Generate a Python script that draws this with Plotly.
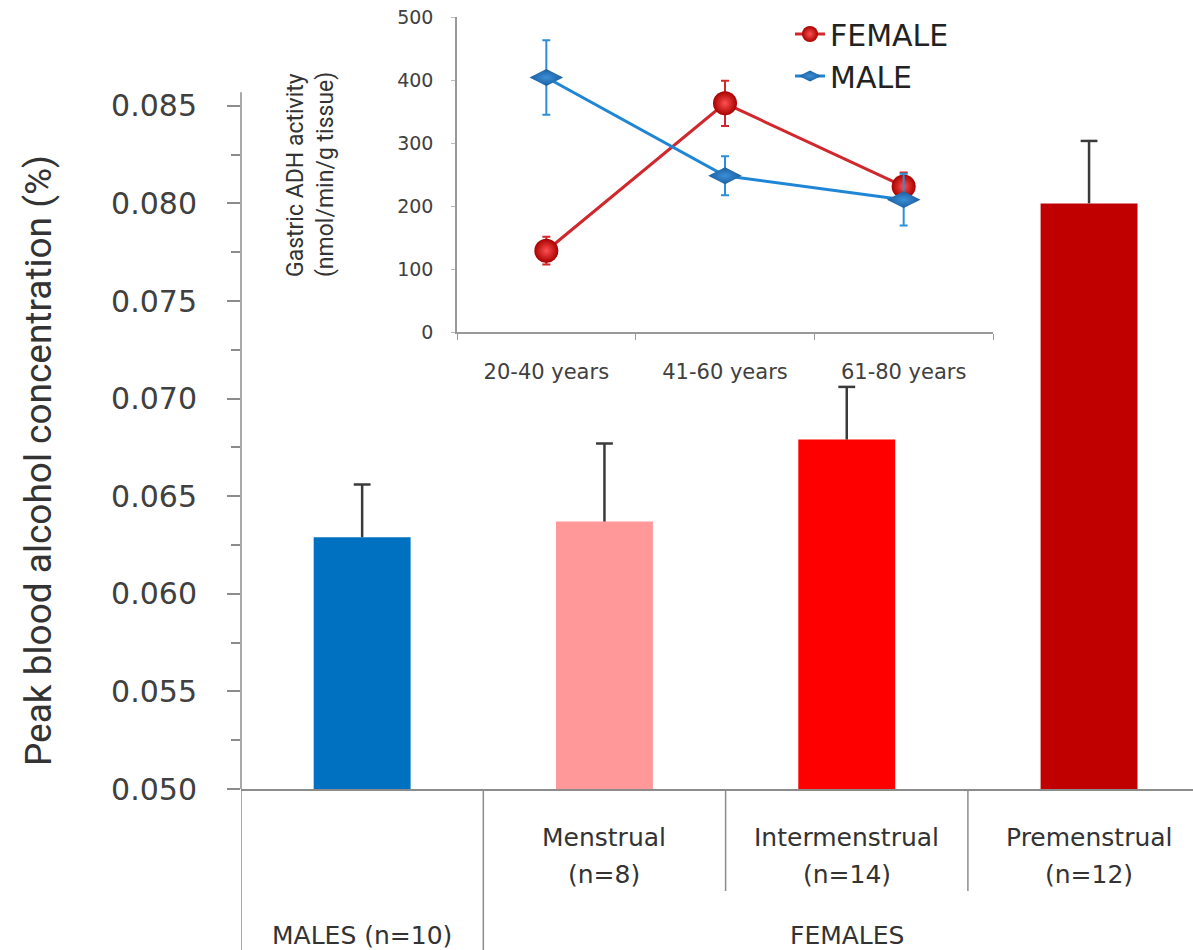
import plotly.graph_objects as go

# ---- main bar chart data ----
groups = ["MALES (n=10)", "Menstrual (n=8)", "Intermenstrual (n=14)", "Premenstrual (n=12)"]
phase_line1 = ["", "Menstrual", "Intermenstrual", "Premenstrual"]
phase_line2 = ["", "(n=8)", "(n=14)", "(n=12)"]
peak_bac = [0.0629, 0.0637, 0.0679, 0.0800]
peak_bac_err = [0.0027, 0.0040, 0.0027, 0.0032]
bar_colors = ["#0070C0", "#FF9999", "#FF0000", "#C00000"]
y_ticks = [0.050, 0.055, 0.060, 0.065, 0.070, 0.075, 0.080, 0.085]
y_minor = [0.0525, 0.0575, 0.0625, 0.0675, 0.0725, 0.0775, 0.0825]

# ---- inset data ----
age_groups = ["20-40 years", "41-60 years", "61-80 years"]
female_adh = [129, 363, 231]
female_adh_err = [22, 36, 22]
male_adh = [404, 248, 210]
male_adh_err = [59, 31, 41]

W, H = 1193, 950
ML, MR, MT = 241, 0, 17
MB = H - 789
PW = W - ML - MR
PH = H - MT - MB
CAT_PX = 242.3


def px(xp):
    return (xp - ML) / PW


def py(yp):
    return (H - MB - yp) / PH


fig = go.Figure()

xs = list(range(len(groups)))
fig.add_trace(go.Bar(
    x=xs, y=peak_bac, width=0.4,
    marker=dict(color=bar_colors, line=dict(width=0)),
    showlegend=False, xaxis="x", yaxis="y",
))

# one-sided error bars (stem + cap) built from the data
err_x, err_y = [], []
for i, (v, e) in enumerate(zip(peak_bac, peak_bac_err)):
    err_x += [i, i, None]
    err_y += [v, v + e, None]
fig.add_trace(go.Scatter(
    x=err_x, y=err_y, mode="lines", line=dict(color="#3a3a3a", width=2.5),
    showlegend=False, hoverinfo="skip", xaxis="x", yaxis="y",
))
fig.add_trace(go.Scatter(
    x=xs, y=[v + e for v, e in zip(peak_bac, peak_bac_err)], mode="markers",
    marker=dict(symbol="line-ew", size=12, line=dict(color="#3a3a3a", width=2.5)),
    showlegend=False, hoverinfo="skip", xaxis="x", yaxis="y",
))

fig.add_trace(go.Scatter(
    x=age_groups, y=female_adh, name="FEMALE", mode="lines+markers",
    line=dict(color="#D0282C", width=3),
    marker=dict(symbol="circle", size=24, color="#A80000",
                gradient=dict(type="radial", color="#FF5050"),
                line=dict(width=0)),
    error_y=dict(type="data", array=female_adh_err, color="#D0282C", thickness=2, width=4),
    xaxis="x2", yaxis="y2",
))
fig.add_trace(go.Scatter(
    x=age_groups, y=male_adh, name="MALE", mode="lines+markers",
    line=dict(color="#1F86D6", width=3),
    marker=dict(symbol="diamond-wide", size=24, color="#1A5E9E",
                gradient=dict(type="radial", color="#3C8FD8"),
                line=dict(width=0)),
    error_y=dict(type="data", array=male_adh_err, color="#2E8FD8", thickness=2, width=4),
    xaxis="x2", yaxis="y2",
))

ytop = 0.050 + PH / 19520.0
axis_top = 0.0857
xmax = -0.5 + PW / CAT_PX

shapes = [
    dict(type="line", xref="paper", yref="y", x0=0, x1=0, y0=0.050, y1=axis_top,
         line=dict(color="#8c8c8c", width=1.5)),
]
for xv, ybot in [(-0.5, 960), (0.5, 960), (1.5, 891), (2.5, 891)]:
    shapes.append(dict(type="line", xref="x", yref="paper", x0=xv, x1=xv,
                       y0=0, y1=py(ybot), line=dict(color="#8c8c8c", width=1.5)))

annotations = []
cat_font = dict(family="DejaVu Sans", size=25, color="#333333")
for i in xs:
    if phase_line1[i]:
        annotations.append(dict(x=i, xref="x", y=py(837), yref="paper", text=phase_line1[i],
                                showarrow=False, font=cat_font, xanchor="center", yanchor="middle"))
        annotations.append(dict(x=i, xref="x", y=py(874), yref="paper", text=phase_line2[i],
                                showarrow=False, font=cat_font, xanchor="center", yanchor="middle"))
annotations.append(dict(x=0, xref="x", y=py(935), yref="paper", text="MALES (n=10)",
                        showarrow=False, font=cat_font, xanchor="center", yanchor="middle"))
annotations.append(dict(x=2, xref="x", y=py(935), yref="paper", text="FEMALES",
                        showarrow=False, font=cat_font, xanchor="center", yanchor="middle"))
annotations.append(dict(x=px(38), xref="paper", y=py(461), yref="paper",
                        text="Peak blood alcohol concentration (%)", textangle=-90,
                        showarrow=False, xanchor="center", yanchor="middle",
                        font=dict(family="Roboto", size=37, color="#333333")))
annotations.append(dict(x=px(296), xref="paper", y=py(175), yref="paper",
                        text="Gastric ADH activity", textangle=-90, showarrow=False,
                        xanchor="center", yanchor="middle",
                        font=dict(family="Roboto", size=23, color="#333333")))
annotations.append(dict(x=px(326), xref="paper", y=py(175), yref="paper",
                        text="(nmol/min/g tissue)", textangle=-90, showarrow=False,
                        xanchor="center", yanchor="middle",
                        font=dict(family="Roboto", size=23, color="#333333")))

fig.update_layout(
    width=W, height=H, autosize=False,
    margin=dict(l=ML, r=MR, t=MT, b=MB, pad=0, autoexpand=False),
    paper_bgcolor="white", plot_bgcolor="rgba(0,0,0,0)",
    xaxis=dict(range=[-0.5, xmax], showline=True, linecolor="#8c8c8c", linewidth=1.5,
               showticklabels=False, ticks="", showgrid=False, zeroline=False,
               fixedrange=True, automargin=False),
    yaxis=dict(range=[0.050, ytop], tickvals=y_ticks,
               ticktext=["%.3f" % v for v in y_ticks],
               ticks="outside", ticklen=13, tickwidth=1.5, tickcolor="#8c8c8c",
               minor=dict(tickvals=y_minor, ticks="outside", ticklen=9, tickwidth=1.5,
                          tickcolor="#8c8c8c"),
               showline=False, showgrid=False, zeroline=False, ticklabelstandoff=24,
               automargin=False,
               tickfont=dict(family="DejaVu Sans", size=30, color="#404040")),
    xaxis2=dict(domain=[px(457), px(993)], anchor="y2", type="category",
                range=[-0.5, len(age_groups) - 0.5],
                showline=True, linecolor="#999999", linewidth=1.5,
                ticks="outside", tickson="boundaries", ticklen=6, tickcolor="#999999",
                showgrid=False, zeroline=False, ticklabelstandoff=20, automargin=False,
                tickfont=dict(family="DejaVu Sans", size=21, color="#404040")),
    yaxis2=dict(domain=[py(332), 1.0], anchor="x2", range=[0, 500], dtick=100,
                showline=True, linecolor="#999999", linewidth=1.5,
                ticks="outside", ticklen=4, tickcolor="#bbbbbb",
                showgrid=False, zeroline=False, ticklabelstandoff=14, automargin=False,
                ticklabeloverflow="allow",
                tickfont=dict(family="DejaVu Sans", size=19, color="#404040")),
    legend=dict(x=px(790), y=py(8), xanchor="left", yanchor="top",
                bgcolor="rgba(0,0,0,0)", borderwidth=0, itemwidth=30,
                font=dict(family="DejaVu Sans", size=30, color="#222222"),
                tracegroupgap=0),
    shapes=shapes,
    annotations=annotations,
)

fig.write_html(
    "out.html",
    config={"displayModeBar": False},
    post_script="document.body.style.margin='0';document.body.style.overflow='hidden';",
)
